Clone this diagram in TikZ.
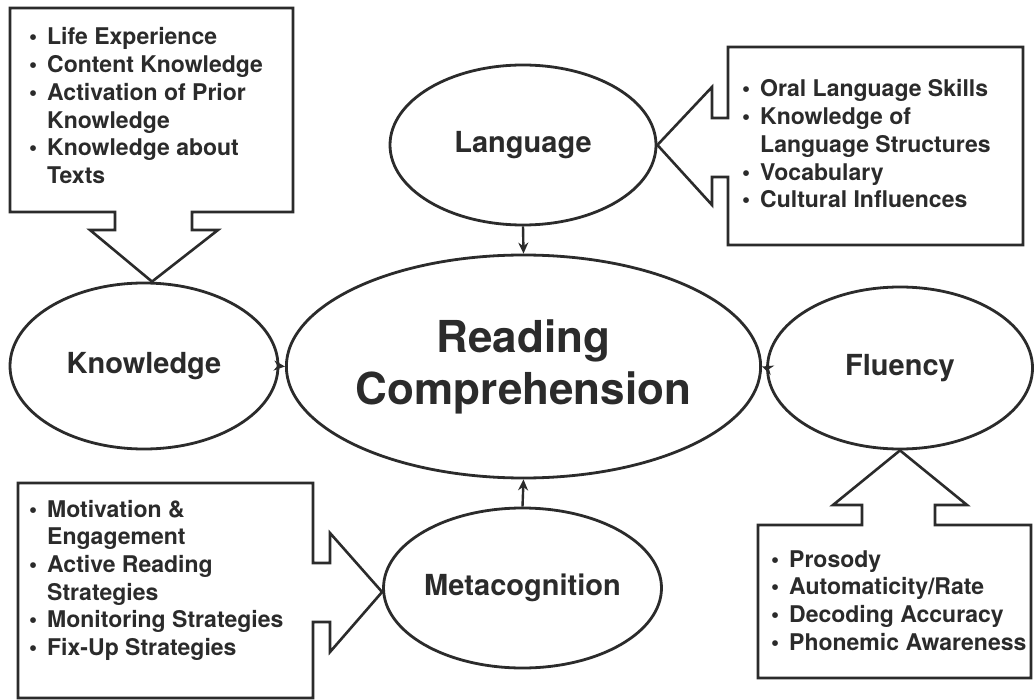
\documentclass[tikz,border=0pt]{standalone}
\usepackage{fontspec}
\setmainfont{TeX Gyre Heros}
\usetikzlibrary{shapes.geometric,arrows.meta,calc}
\definecolor{ink}{HTML}{2B2B2B}
% bullet with a fixed-width slot, and the matching indent for wrapped lines
\newcommand{\bl}{\makebox[18pt][l]{\textbullet}}
\newcommand{\cn}{\hspace*{18pt}}
\begin{document}
\begin{tikzpicture}[x=1pt,y=-1pt,
  oval/.style={ellipse,draw=ink,line width=2.8pt,inner sep=0pt,text=ink,
    font=\bfseries\fontsize{29}{34}\selectfont},
  callout/.style={draw=ink,line width=2.6pt,line join=miter},
  itemlist/.style={anchor=base west,inner sep=0pt,text=ink,
    font=\bfseries\fontsize{23}{27.7}\selectfont},
  conn/.style={draw=ink,line width=2.4pt,-{Stealth[length=11pt,width=10pt]}}]
\useasboundingbox (0,0) rectangle (1035,700);
\fill[white] (0,0) rectangle (1035,700);

% central concept and the four components
\node[oval,minimum width=427pt,minimum height=223pt,align=center,
  font=\bfseries\fontsize{44}{52}\selectfont] (rc) at (523.5,366.5)
  {Reading\\Comprehension};
\node[oval,minimum width=266pt,minimum height=160pt] (lang) at (523,145) {Language};
\node[oval,minimum width=268pt,minimum height=166pt] (know) at (144,366) {Knowledge};
\node[oval,minimum width=265pt,minimum height=162pt] (flu) at (900,368) {Fluency};
\node[oval,minimum width=269pt,minimum height=160pt] (meta) at (522.5,588) {Metacognition};

% connectors into the central concept
\draw[conn] (lang.south) -- (rc.north);
\draw[conn] (know.east) -- (rc.west);
\draw[conn] (flu.west) -- (rc.east);
\draw[conn] (meta.north) -- (rc.south);

% callout boxes, each with an arrow pointing at its component
\coordinate (tk) at ($(know.north)+(8,0)$);
\draw[callout] (10,8) -- (293,8) -- (293,212) -- (192,212) -- (192,230) -- (218,230)
  -- (tk) -- (90,230) -- (115,230) -- (115,212) -- (10,212) -- cycle;

\coordinate (tl) at (lang.east);
\draw[callout] (728,47) -- (1023,47) -- (1023,245) -- (728,245) -- (728,177) -- (712,177)
  -- (712,205) -- (tl) -- (712,87) -- (712,118) -- (728,118) -- cycle;

\coordinate (tm) at ($(meta.west)+(0,4)$);
\draw[callout] (18,483) -- (313,483) -- (313,563) -- (330,563) -- (330,533) -- (tm)
  -- (330,652) -- (330,622) -- (313,622) -- (313,698) -- (18,698) -- cycle;

\coordinate (tf) at (flu.south);
\draw[callout] (758,525) -- (862,525) -- (862,505) -- (833,505) -- (tf) -- (967,505)
  -- (935,505) -- (935,525) -- (1031,525) -- (1031,678) -- (758,678) -- cycle;

% callout texts
\node[itemlist] (tknow) at (29,45) {\begin{tabular}[t]{@{}l@{}}
\bl Life Experience\\
\bl Content Knowledge\\
\bl Activation of Prior\\
\cn Knowledge\\
\bl Knowledge about\\
\cn Texts
\end{tabular}};

\node[itemlist] (tlang) at (742,97) {\begin{tabular}[t]{@{}l@{}}
\bl Oral Language Skills\\
\bl Knowledge of\\
\cn Language Structures\\
\bl Vocabulary\\
\bl Cultural Influences
\end{tabular}};

\node[itemlist] (tmeta) at (29,517) {\begin{tabular}[t]{@{}l@{}}
\bl Motivation \&\\
\cn Engagement\\
\bl Active Reading\\
\cn Strategies\\
\bl Monitoring Strategies\\
\bl Fix-Up Strategies
\end{tabular}};

\node[itemlist] (tflu) at (771,567) {\begin{tabular}[t]{@{}l@{}}
\bl Prosody\\
\bl Automaticity/Rate\\
\bl Decoding Accuracy\\
\bl Phonemic Awareness
\end{tabular}};
\end{tikzpicture}
\end{document}
